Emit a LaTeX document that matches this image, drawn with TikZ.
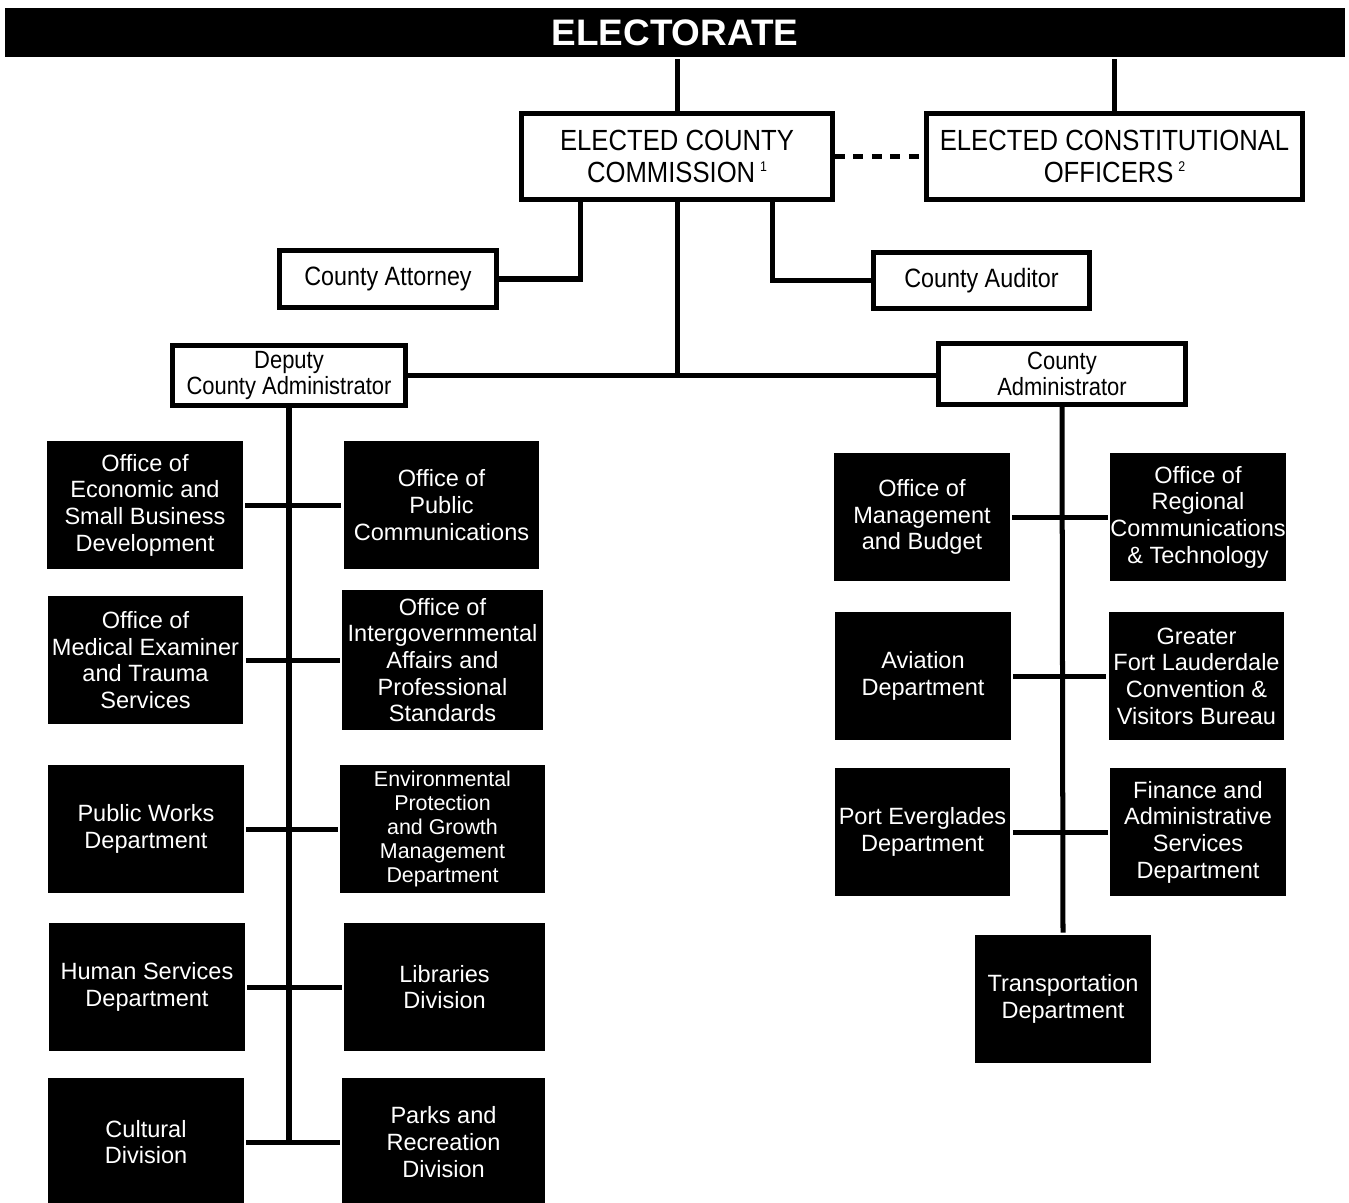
\documentclass[tikz,border=0pt]{standalone}
\usepackage{fontspec}
\setmainfont{Liberation Sans}
\newfontfamily\narrowsf{Liberation Sans}[FakeStretch=0.88]
\usetikzlibrary{positioning}
\newcommand{\refmark}[1]{\,\raisebox{0.75ex}{\fontsize{8}{8}\selectfont #1}}

\begin{document}
\begin{tikzpicture}[
  x=0.02cm,y=-0.02cm,
  line width=2.85pt,
  every node/.style={align=center,inner sep=0pt},
  office/.style={draw=black,fill=white,line width=2.85pt,
                 font=\narrowsf\fontsize{14.2}{14.8}\selectfont},
  topbox/.style={office,minimum height=1.72cm,
                 font=\narrowsf\fontsize{16.6}{18.6}\selectfont},
  unit/.style={fill=black,text=white,minimum width=3.92cm,minimum height=2.56cm,
               font=\fontsize{13.4}{15.2}\selectfont},
  runit/.style={unit,minimum width=3.52cm},
]
  \useasboundingbox (0,0) rectangle (1349,1203);

  \node[fill=black,text=white,minimum width=26.8cm,minimum height=0.98cm,
        font=\bfseries\fontsize{21}{24}\selectfont] (elect) at (675,32.5) {ELECTORATE};

  \node[topbox,minimum width=6.22cm] (comm)  at (677,156.5)
        {ELECTED COUNTY\\COMMISSION\refmark{1}};
  \node[topbox,minimum width=7.52cm] (const) at (1114.5,156.5)
        {ELECTED CONSTITUTIONAL\\OFFICERS\refmark{2}};

  \node[office,minimum width=4.34cm,minimum height=1.14cm,
        font=\narrowsf\fontsize{15.1}{17}\selectfont] (atty) at (388,279) {County Attorney};
  \node[office,minimum width=4.32cm,minimum height=1.12cm,
        font=\narrowsf\fontsize{15.1}{17}\selectfont] (aud)  at (981.5,280.5) {County Auditor};

  \node[office,minimum width=4.68cm,minimum height=1.2cm]  (deputy) at (289,375.5)
        {Deputy\\County Administrator};
  \node[office,minimum width=4.94cm,minimum height=1.22cm] (admin)  at (1062,374)
        {County\\Administrator};

  % deputy county administrator side
  \node[unit] (econ)     at (145,505)    {Office of\\Economic and\\Small Business\\Development};
  \node[unit] (pubcom)   at (441.5,505)  {Office of\\Public\\Communications};
  \node[unit] (medical)  at (145.5,660)  {Office of\\Medical Examiner\\and Trauma\\Services};
  \node[unit,minimum width=4.02cm,minimum height=2.82cm] (intergov) at (442.5,660)
        {Office of\\Intergovernmental\\Affairs and\\Professional\\Standards};
  \node[unit] (works)    at (146,829)    {Public Works\\Department};
  \node[unit,minimum width=4.1cm,font=\fontsize{12.2}{13.7}\selectfont] (environ) at (442.5,829)
        {Environmental\\Protection\\and Growth\\Management\\Department};
  \node[unit] (human)    at (147,987)    {Human Services\\Department};
  \node[unit,minimum width=4.02cm] (libs)  at (444.5,987) {Libraries\\Division};
  \node[unit] (cultural) at (146,1142)   {Cultural\\Division};
  \node[unit,minimum width=4.06cm] (parks) at (443.5,1142) {Parks and\\Recreation\\Division};

  % county administrator side
  \node[runit] (mgmt)      at (922,517)     {Office of\\Management\\and Budget};
  \node[runit] (regional)  at (1198,517)    {Office of\\Regional\\Communications\\\& Technology};
  \node[runit] (aviation)  at (923,676)     {Aviation\\Department};
  \node[runit] (greater)   at (1196.5,676)  {Greater\\Fort Lauderdale\\Convention \&\\Visitors Bureau};
  \node[runit] (port)      at (922.5,832)   {Port Everglades\\Department};
  \node[runit] (finance)   at (1198,832)    {Finance and\\Administrative\\Services\\Department};
  \node[runit] (transport) at (1063,999)    {Transportation\\Department};

  % connectors
  \draw (comm.north) -- (comm.north |- elect.south);
  \draw (const.north) -- (const.north |- elect.south);
  \draw[dash pattern=on 0.2cm off 0.17cm] (comm.east) -- (const.west);
  \draw (atty.east) -| ([xshift=-1.94cm]comm.south);
  \draw (aud.west) -| ([xshift=1.92cm]comm.south);
  \draw (comm.south) -- (comm.south |- deputy.east);
  \draw (deputy.east) -- (deputy.east -| admin.west);

  \draw (deputy.south) -- (deputy.south |- cultural.east);
  \draw (econ.east) -- (pubcom.west);
  \draw (medical.east) -- (intergov.west);
  \draw (works.east) -- (environ.west);
  \draw (human.east) -- (libs.west);
  \draw (cultural.east) -- (parks.west);

  \draw (admin.south) -- (transport.north);
  \draw (mgmt.east) -- (regional.west);
  \draw (aviation.east) -- (greater.west);
  \draw (port.east) -- (finance.west);
\end{tikzpicture}
\end{document}
